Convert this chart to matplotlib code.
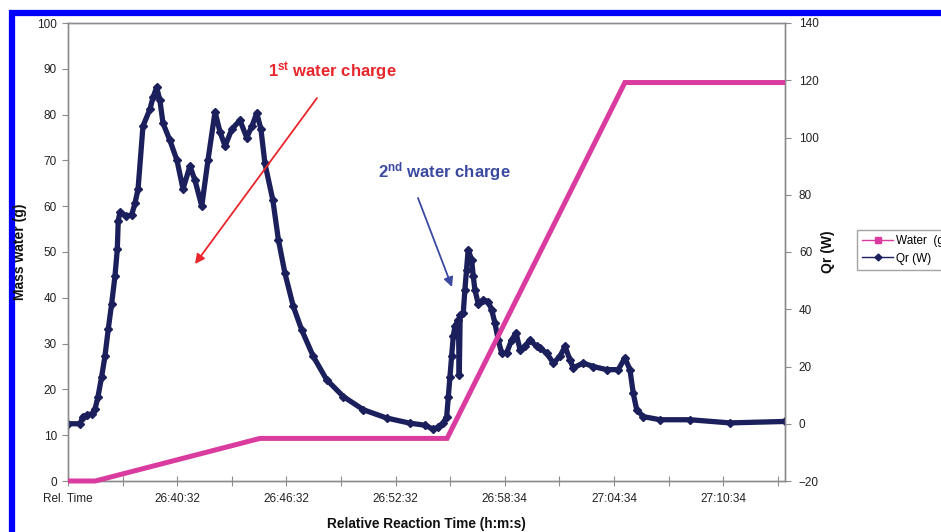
import matplotlib
matplotlib.use("Agg")
import matplotlib.pyplot as plt
from matplotlib.lines import Line2D

plt.rcParams['font.family'] = ['Liberation Sans', 'DejaVu Sans']
plt.rcParams['mathtext.fontset'] = 'custom'
plt.rcParams['mathtext.bf'] = 'Liberation Sans:bold'
plt.rcParams['mathtext.rm'] = 'Liberation Sans'

# ---- data (minutes after reference "Rel. Time" 26:34:32) ----
water_min = [0.0, 1.5, 10.55, 20.83, 30.6, 39.4]
water_g = [0.0, 0.0, 9.3, 9.3, 87.0, 87.0]

qr_min = [0.0, 0.66, 0.82, 1.04, 1.32, 1.48, 1.65, 1.85, 2.03, 2.21, 2.40, 2.58,
          2.71, 2.76, 2.86, 3.19, 3.50, 3.68, 3.85, 4.12, 4.51, 4.67, 4.87, 5.05,
          5.22, 5.60, 5.99, 6.32, 6.70, 6.98, 7.35, 7.69, 8.08, 8.35, 8.63, 9.01,
          9.45, 9.82, 10.11, 10.37, 10.60, 10.82, 11.26, 11.56, 11.92, 12.38, 12.84,
          13.48, 14.21, 15.13, 16.23, 17.51, 18.79, 19.60, 20.07, 20.35, 20.62, 20.81,
          20.90, 20.99, 21.08, 21.17, 21.26, 21.45, 21.50, 21.55, 21.72, 21.81,
          21.90, 21.99, 22.18, 22.27, 22.36, 22.54, 22.82, 23.09, 23.28, 23.46,
          23.64, 23.83, 24.10, 24.38, 24.62, 24.84, 25.11, 25.38, 25.75, 25.93,
          26.30, 26.67, 27.03, 27.31, 27.58, 27.76, 28.31, 28.86, 29.60, 30.24,
          30.60, 30.88, 31.06, 31.25, 31.61, 32.53, 34.18, 36.37, 39.40]
qr_w = [0.0, 0.0, 2.5, 3.0, 3.5, 5.0, 9.5, 16.5, 23.5, 33.0, 42.0, 51.5,
        61.0, 71.0, 74.0, 72.5, 73.0, 77.0, 82.0, 104.0, 110.0, 114.0, 117.5, 113.0,
        105.0, 99.0, 92.0, 82.0, 90.0, 85.0, 76.0, 92.0, 109.0, 102.0, 97.0, 103.0,
        106.0, 100.0, 104.0, 108.5, 103.0, 91.0, 78.0, 64.3, 52.6, 41.0, 32.8,
        23.5, 15.4, 9.5, 4.9, 2.0, 0.2, -0.5, -1.9, -1.2, 0.2, 2.5,
        9.5, 16.5, 23.5, 30.5, 34.0, 36.3, 17.0, 38.0, 38.7, 46.8,
        53.8, 60.8, 57.3, 51.5, 46.8, 42.0, 43.3, 42.7, 39.8, 35.2,
        29.3, 24.7, 24.7, 29.3, 31.7, 25.9, 27.0, 29.3, 27.0, 26.4,
        24.7, 21.2, 23.5, 27.0, 22.4, 19.5, 21.2, 20.0, 18.9, 18.9,
        23.0, 18.9, 10.7, 4.9, 2.5, 1.4, 1.4, 0.3, 0.8]

tick_min = [0, 3, 6, 9, 12, 15, 18, 21, 24, 27, 30, 33, 36, 39]
tick_labels = ['Rel. Time', '', '26:40:32', '', '26:46:32', '', '26:52:32', '',
               '26:58:34', '', '27:04:34', '', '27:10:34', '']

PINK = '#d93b9e'
NAVY = '#1b1f5c'
GRAY = '#8c8c8c'

fig = plt.figure(figsize=(9.41, 5.32), dpi=100)
ax = fig.add_axes([68 / 941, 1 - 481 / 532, (785 - 68) / 941, (481 - 23) / 532])
ax2 = ax.twinx()

ax2.plot(qr_min, qr_w, color=NAVY, lw=3.8, marker='D', ms=4.5,
         solid_joinstyle='round', zorder=3)
ax.plot(water_min, water_g, color=PINK, lw=3.6, solid_joinstyle='miter',
        solid_capstyle='butt', clip_on=False, zorder=4)

ax.set_zorder(ax2.get_zorder() + 1)
ax.patch.set_visible(False)

ax.set_xlim(0, 39.4)
ax.set_ylim(0, 100)
ax2.set_ylim(-20, 140)
ax.set_yticks(range(0, 101, 10))
ax2.set_yticks(range(-20, 141, 20))
ax.set_xticks(tick_min)
ax.set_xticklabels(tick_labels)

for a in (ax, ax2):
    for s in a.spines.values():
        s.set_color(GRAY)
        s.set_linewidth(1.0)
ax.tick_params(axis='x', direction='inout', length=7, color=GRAY, labelsize=8.5,
               pad=5, labelcolor='#222222')
ax.tick_params(axis='y', direction='out', length=4, color=GRAY, labelsize=8.5,
               pad=4, labelcolor='#222222')
ax2.tick_params(axis='y', direction='out', length=4, color=GRAY, labelsize=8.5,
                pad=6, labelcolor='#222222')

fig.text(426 / 941, 1 - 524 / 532, 'Relative Reaction Time (h:m:s)', ha='center',
         va='center', fontsize=9.8, fontweight='bold', color='#111111')
fig.text(20 / 941, 1 - 252 / 532, 'Mass water (g)', ha='center', va='center',
         rotation=90, fontsize=10, fontweight='bold', color='#111111')
fig.text(828 / 941, 1 - 252 / 532, 'Qr (W)', ha='center', va='center',
         rotation=90, fontsize=10, fontweight='bold', color='#111111')

# annotations
RED = '#e8262b'
BLUE = '#3b4aa0'
fig.text(268 / 941, 1 - 72 / 532, r'$\mathbf{1^{st}}$ water charge', ha='left',
         va='center', fontsize=12, fontweight='bold', color=RED)
ax.annotate('', xy=(195, 532 - 264), xycoords='figure pixels',
            xytext=(317, 532 - 98), textcoords='figure pixels',
            arrowprops=dict(arrowstyle='-|>', color=RED, lw=1.3,
                            mutation_scale=14, shrinkA=0, shrinkB=0))
fig.text(378 / 941, 1 - 172 / 532, r'$\mathbf{2^{nd}}$ water charge', ha='left',
         va='center', fontsize=12, fontweight='bold', color=BLUE)
ax.annotate('', xy=(452, 532 - 287), xycoords='figure pixels',
            xytext=(418, 532 - 198), textcoords='figure pixels',
            arrowprops=dict(arrowstyle='-|>', color=BLUE, lw=1.3,
                            mutation_scale=14, shrinkA=0, shrinkB=0))

handles = [Line2D([], [], color=PINK, lw=1.0, marker='s', ms=4),
           Line2D([], [], color=NAVY, lw=1.0, marker='D', ms=3.5)]
leg = fig.legend(handles, ['Water  (g)', 'Qr (W)'], loc='upper left',
                 bbox_to_anchor=(857 / 941, 1 - 230 / 532), fontsize=8.5,
                 frameon=True, fancybox=False, edgecolor=GRAY, handlelength=2.6,
                 handletextpad=0.25, borderpad=0.45, labelspacing=0.45,
                 borderaxespad=0)
leg.get_frame().set_linewidth(1.0)

# blue frame around the figure
fig.add_artist(Line2D([11.5 / 941, 11.5 / 941], [0, 1 - 10 / 532], color='#0000ff',
                      lw=4.5, transform=fig.transFigure, solid_capstyle='butt'))
fig.add_artist(Line2D([9.2 / 941, 1], [1 - 13 / 532, 1 - 13 / 532], color='#0000ff',
                      lw=4.5, transform=fig.transFigure, solid_capstyle='butt'))

fig.savefig('out.png', dpi=100)
